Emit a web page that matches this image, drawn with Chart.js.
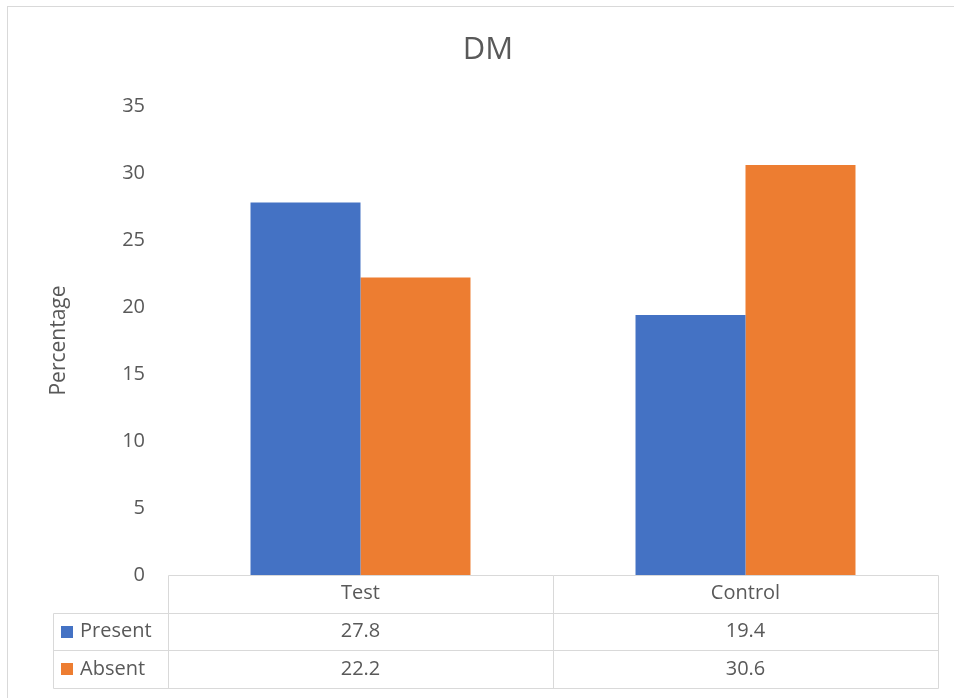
<!DOCTYPE html>
<html>
<head>
<meta charset="utf-8">
<script src="https://cdn.jsdelivr.net/npm/chart.js@4/dist/chart.umd.min.js"></script>
<style>
  html, body { margin: 0; padding: 0; background: #fff; }
  #wrap { width: 954px; height: 698px; position: relative; }
</style>
</head>
<body>
<div id="wrap"><canvas id="c" width="954" height="698"></canvas></div>
<script>
const categories = ['Test', 'Control'];
const presentValues = [27.8, 19.4];
const absentValues = [22.2, 30.6];
const seriesNames = ['Present', 'Absent'];
const chartTitle = 'DM';
const yAxisTitle = 'Percentage';

const TEXT = '#595959';
const LINE = '#d9d9d9';
const COLORS = ['#4472C4', '#ED7D31'];
const FONT = "'Open Sans', sans-serif";

const tablePlugin = {
  id: 'dataTable',
  beforeDraw(chart) {
    const ctx = chart.ctx;
    ctx.save();
    ctx.strokeStyle = LINE;
    ctx.lineWidth = 1;
    ctx.strokeRect(7.5, 6.5, 1000, 1000);
    ctx.font = "31px " + FONT;
    ctx.fillStyle = TEXT;
    ctx.textAlign = 'center';
    ctx.textBaseline = 'middle';
    ctx.fillText(chartTitle, 488, 50);
    ctx.restore();
  },
  afterDraw(chart) {
    const ctx = chart.ctx;
    const area = chart.chartArea;
    const x = chart.scales.x;
    const top = area.bottom;
    const rowH = 37.7;
    const legendLeft = 53;
    const colEdges = [area.left];
    for (let i = 0; i < categories.length; i++) {
      const c = x.getPixelForValue(i);
      colEdges.push(2 * c - colEdges[colEdges.length - 1]);
    }
    ctx.save();
    ctx.strokeStyle = LINE;
    ctx.lineWidth = 1;
    const line = (x1, y1, x2, y2) => {
      ctx.beginPath();
      ctx.moveTo(Math.round(x1) + 0.5, Math.round(y1) + 0.5);
      ctx.lineTo(Math.round(x2) + 0.5, Math.round(y2) + 0.5);
      ctx.stroke();
    };
    const nRows = 1 + seriesNames.length;
    const bottom = top + rowH * nRows;
    line(area.left, top, area.right, top);
    for (let r = 1; r <= nRows; r++) {
      line(legendLeft, top + rowH * r, area.right, top + rowH * r);
    }
    colEdges.forEach(e => line(e, top, e, bottom));
    line(legendLeft, top + rowH, legendLeft, bottom);

    ctx.font = "20px " + FONT;
    ctx.fillStyle = TEXT;
    ctx.textBaseline = 'middle';
    const data = [presentValues, absentValues];
    seriesNames.forEach((name, s) => {
      const cy = top + rowH * (s + 1) + rowH / 2;
      ctx.fillStyle = COLORS[s];
      ctx.fillRect(61, Math.round(cy) - 6, 12, 12);
      ctx.fillStyle = TEXT;
      ctx.textAlign = 'left';
      ctx.fillText(name, 80, cy);
      ctx.textAlign = 'center';
      data[s].forEach((v, i) => {
        ctx.fillText(v.toFixed(1), x.getPixelForValue(i), cy);
      });
    });
    ctx.restore();
  }
};

new Chart(document.getElementById('c'), {
  type: 'bar',
  data: {
    labels: categories,
    datasets: [
      { label: seriesNames[0], data: presentValues, backgroundColor: COLORS[0] },
      { label: seriesNames[1], data: absentValues, backgroundColor: COLORS[1] }
    ]
  },
  options: {
    responsive: false,
    animation: false,
    devicePixelRatio: 1,
    layout: { padding: { left: 8, right: 16, top: 106, bottom: 10 } },
    datasets: { bar: { categoryPercentage: 0.5714, barPercentage: 1.0 } },
    plugins: {
      legend: { display: false },
      tooltip: { enabled: false },
      title: { display: false }
    },
    scales: {
      x: {
        grid: { display: false, drawTicks: false },
        border: { display: false },
        ticks: { color: TEXT, font: { family: FONT, size: 20 }, padding: 6 },
        afterFit(scale) { scale.height = 113; }
      },
      y: {
        min: 0,
        max: 35,
        grid: { display: false, drawTicks: false },
        border: { display: false },
        ticks: { stepSize: 5, color: TEXT, font: { family: FONT, size: 20 }, padding: 23 },
        title: {
          display: true,
          text: yAxisTitle,
          color: TEXT,
          font: { family: FONT, size: 21 },
          padding: { top: 38.4, bottom: 0 }
        },
        afterFit(scale) { scale.width = 160; }
      }
    }
  },
  plugins: [tablePlugin]
});
</script>
</body>
</html>
